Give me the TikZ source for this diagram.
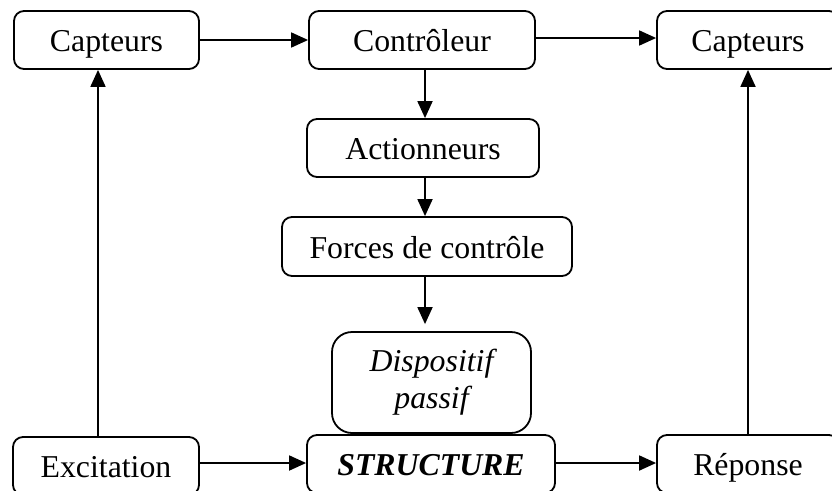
\documentclass[tikz,border=0pt]{standalone}
\usepackage{fontspec}
\setmainfont{Liberation Serif}
\usetikzlibrary{arrows.meta}
\begin{document}
\begin{tikzpicture}[x=1pt,y=-1pt,
  frame/.style={draw, line width=1.8pt, rounded corners=10pt, inner sep=0pt,
    font=\fontsize{31.8}{37}\selectfont},
  box/.style={frame, minimum height=58pt, text height=27pt, text depth=3.2pt},
  link/.style={line width=1.8pt, -{Triangle[length=17pt,width=15pt]}},
  plain/.style={line width=1.8pt}]
\useasboundingbox (0,0) rectangle (832,490);

% top row
\node[box, minimum width=185pt] (cap1) at (106.5,40) {Capteurs};
\node[box, minimum width=226pt] (ctrl) at (422,40) {Contrôleur};
\node[box, minimum width=182pt] (cap2) at (748,40) {Capteurs};

% central chain
\node[box, minimum width=232pt] (act) at (423,148) {Actionneurs};
\node[box, minimum width=290pt, minimum height=59pt] (forc) at (427,246.5) {Forces de contrôle};
\node[frame, rounded corners=20pt, minimum width=199pt, minimum height=101pt,
  align=center, font=\fontsize{31.8}{37}\selectfont\itshape] (disp) at (431.5,382.5)
  {Dispositif\\passif};

% bottom row
\node[box, minimum width=186pt] (exc) at (106,466) {Excitation};
\node[box, minimum width=248pt, font=\fontsize{31.8}{37}\selectfont\bfseries\itshape] (str) at (431,464) {STRUCTURE};
\node[box, minimum width=182pt] (rep) at (748,464) {Réponse};

% guide lines for the vertical connectors
\coordinate (spine) at (425,0);
\coordinate (lx) at (98,0);
\coordinate (rx) at (748,0);

% horizontal connectors
\draw[link] (cap1.east) -- (ctrl.west);
\draw[link] (ctrl.east |- 0,38) -- (cap2.west |- 0,38);
\draw[link] (exc.east |- 0,463) -- (str.west |- 0,463);
\draw[link] (str.east |- 0,463) -- (rep.west |- 0,463);

% vertical connectors
\draw[link] (ctrl.south -| spine) -- (act.north -| spine);
\draw[link] (act.south -| spine) -- (forc.north -| spine);
\draw[link, shorten >=7pt] (forc.south -| spine) -- (disp.north -| spine);
\draw[link] (exc.north -| lx) -- (cap1.south -| lx);
\draw[link] (rep.north -| rx) -- (cap2.south -| rx);
\end{tikzpicture}
\end{document}
